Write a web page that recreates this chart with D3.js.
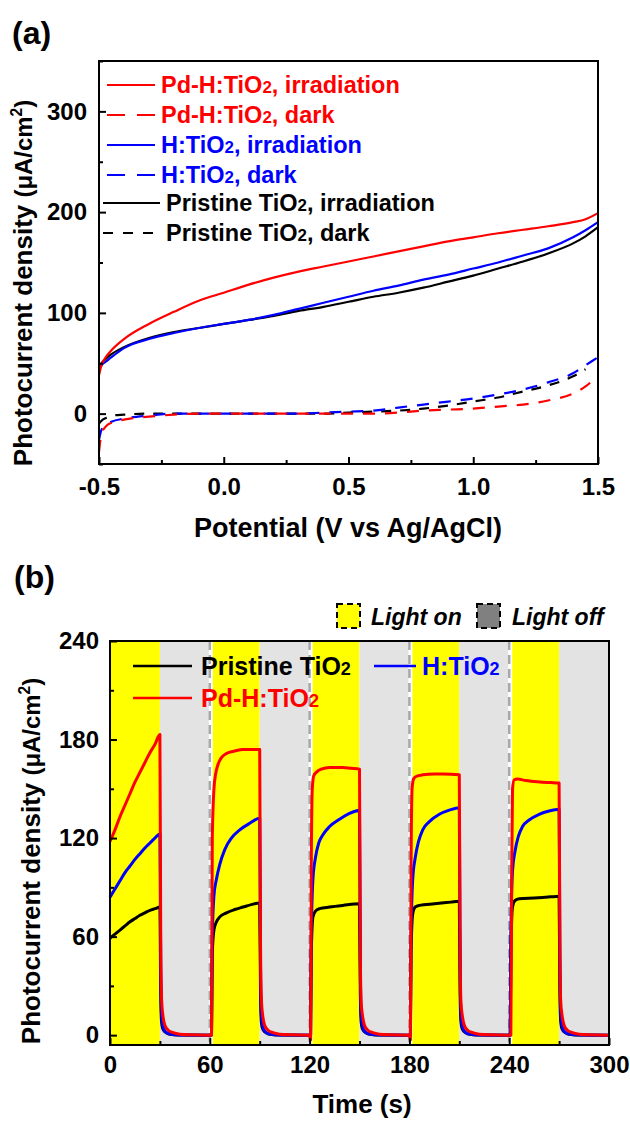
<!DOCTYPE html>
<meta charset="utf-8">
<script src="https://cdn.jsdelivr.net/npm/d3@7"></script>
<style>
    body { margin: 0; background: #fff; }
    text { font-family: "Liberation Sans", Arial, sans-serif; font-weight: bold; }
</style>
<svg id="fig" width="630" height="1121"></svg>
<script>
// ---------- panel (a) data : linear sweep ----------
var potential = [-0.5, -0.49, -0.47, -0.45, -0.4, -0.3, -0.2, -0.1, 0, 0.1, 0.2, 0.3, 0.4, 0.5,
    0.6, 0.7, 0.8, 0.9, 1.0, 1.1, 1.2, 1.3, 1.4, 1.45, 1.5];
var pdIrr = [38, 48, 57, 63, 74, 89, 101, 112, 120, 128, 135, 141, 146, 151,
    156, 161, 166, 171, 175, 179, 182.5, 186, 190, 193, 199];
var pdDark = [-38, -20, -12, -9, -6, -3, -1, 0, 0, 0, 0, 0, 0, 0,
    0, 1, 3, 4, 5, 7, 9, 13, 20, 27, 38];
var hIrr = [44, 48, 52, 56, 65, 74, 80, 85, 89, 93, 98, 104, 110, 116,
    122, 127, 133, 138, 144, 150, 157, 164, 175, 182, 190];
var hDark = [-26, -16, -11, -8, -5, -2, 0, 0, 0, 0, 0, 0, 1, 2,
    3, 6, 9, 12, 15, 19, 24, 31, 40, 48, 56];
var priIrr = [46, 50, 55, 59, 66, 75, 81, 85, 89, 93, 97, 102, 106, 111,
    116, 120, 125, 131, 137, 144, 151, 159, 169, 176, 185];
var priDark = [-10, -7, -4, -2, -1, 0, 0, 0, 0, 0, 0, 0, 0, 1,
    2, 3, 5, 8, 12, 16, 22, 28, 37, 44, null];

var potTicks = [-0.5, 0, 0.5, 1.0, 1.5];
var potMinor = [-0.25, 0.25, 0.75, 1.25];
var jTicksA = [0, 100, 200, 300];
var jMinorA = [-50, 50, 150, 250, 350];

// ---------- panel (b) data : chopped light ----------
var timeTicks = [0, 60, 120, 180, 240, 300];
var timeMinor = [30, 90, 150, 210, 270];
var jTicksB = [0, 60, 120, 180, 240];
var jMinorB = [30, 90, 150, 210];
var lightOn = [[0, 30], [60, 90], [120, 150], [180, 210], [240, 270]];
var lightOff = [[30, 60], [90, 120], [150, 180], [210, 240], [270, 300]];
var switchLines = [60, 120, 180, 240];

var pristineTrace = [
    [0,59],[3,61.5],[6,64],[9,66.5],[12,69],[15,71],[18,73],[21,74.5],[24,76],[27,77],[30,78],
    [30.5,25],[31,8],[31.7,4],[33,2],[35,0.8],[38,0.3],[42,0.1],[60,0],
    [61,0],[61.5,50],[62.5,64],[64,69],[66,72],[70,74.5],[75,76.5],[80,78],[85,79.5],[90,80.5],
    [90.5,25],[91,8],[91.7,4],[93,2],[95,0.8],[98,0.3],[102,0.1],[120,0],
    [120.6,0],[121,50],[122,72],[123.5,75.5],[126,77],[132,78],[140,79],[150,80],
    [150.5,25],[151,8],[151.7,4],[153,2],[155,0.8],[158,0.3],[162,0.1],[180,0],
    [180.6,0],[181,50],[182,74],[183.5,78],[186,79],[195,80],[205,81],[210,81.5],
    [210.5,25],[211,8],[211.7,4],[213,2],[215,0.8],[218,0.3],[222,0.1],[240,0],
    [240.6,0],[241,50],[242,78],[243.5,82],[246,83],[255,83.5],[265,84.2],[270,84.5],
    [270.5,25],[271,8],[271.7,4],[273,2],[275,0.8],[278,0.3],[282,0.1],[300,0]
];
var hTrace = [
    [0,84],[3,89],[6,94],[9,99],[12,103],[15,107],[18,110.5],[21,114],[24,117],[27,120],[30,122.5],
    [30.5,40],[31,12],[31.7,6],[33,2.5],[35,1],[38,0.4],[42,0.1],[60,0],
    [61,0],[61.5,60],[62.5,85],[64,95],[66,104],[69,113],[73,120],[78,125],[84,129],[90,132],
    [90.5,40],[91,12],[91.7,6],[93,2.5],[95,1],[98,0.4],[102,0.1],[120,0],
    [120.6,0],[121,60],[122,95],[123.5,108],[125.5,117],[128,122],[132,127],[138,131.5],[144,135],[150,137],
    [150.5,40],[151,12],[151.7,6],[153,2.5],[155,1],[158,0.4],[162,0.1],[180,0],
    [180.6,0],[181,60],[182,95],[183.5,108],[185.5,118],[188,125],[192,130],[198,134.5],[204,137],[210,138.5],
    [210.5,40],[211,12],[211.7,6],[213,2.5],[215,1],[218,0.4],[222,0.1],[240,0],
    [240.6,0],[241,60],[242,100],[243.5,112],[245.5,121],[248,127],[252,131],[258,134.5],[264,136.5],[270,137.5],
    [270.5,40],[271,12],[271.7,6],[273,2.5],[275,1],[278,0.4],[282,0.1],[300,0]
];
var pdTrace = [
    [0,118],[3,125],[6,133],[9,140],[12,147],[15,154],[18,160],[21,166],[24,172],[27,177],[30,183],
    [30.5,60],[31,22],[31.8,12],[33,6],[35,3],[38,1.5],[42,0.6],[48,0.2],[60,0],
    [61,0],[61.5,120],[62.5,150],[63.5,159],[65,165],[67,169],[70,171.5],[75,173],[80,174],[85,174],[90,174],
    [90.5,55],[91,22],[91.8,12],[93,6],[95,3],[98,1.5],[102,0.6],[108,0.2],[120,0],
    [120.6,-3],[121,100],[121.6,150],[122.5,158],[124,160],[127,162],[132,163],[140,163],[145,162.5],[150,162],
    [150.5,50],[151,20],[151.8,12],[153,6],[155,3],[158,1.5],[162,0.6],[168,0.2],[180,0],
    [180.6,-3],[181,100],[181.6,150],[182.5,156],[184,157.5],[188,158.5],[195,159],[200,159],[210,158.5],
    [210.5,50],[211,20],[211.8,12],[213,6],[215,3],[218,1.5],[222,0.6],[228,0.2],[240,0],
    [241,0],[241.5,100],[242,150],[243,155.5],[245,156],[250,155],[255,154.5],[260,154],[265,153.8],[270,153.5],
    [270.5,50],[271,20],[271.8,12],[273,6],[275,3],[278,1.5],[282,0.6],[288,0.2],[300,0]
];

var svg = d3.select("#fig");

// draw inward major + minor ticks and labels
function drawAxes(g, x, y, w, h, xMajor, xMinor, yMajor, yMinor, xFmt, xPad, yPad) {
    g.append("g")
        .attr("transform", "translate(0," + h + ")")
        .call(d3.axisBottom(x).tickValues(xMinor).tickSize(-4).tickFormat(""))
        .call(function(a) { a.select(".domain").remove(); });
    g.append("g")
        .call(d3.axisLeft(y).tickValues(yMinor).tickSize(-4).tickFormat(""))
        .call(function(a) { a.select(".domain").remove(); });
    var xa = g.append("g")
        .attr("transform", "translate(0," + h + ")")
        .call(d3.axisBottom(x).tickValues(xMajor).tickSizeInner(-7).tickSizeOuter(0)
            .tickPadding(xPad).tickFormat(xFmt));
    var ya = g.append("g")
        .call(d3.axisLeft(y).tickValues(yMajor).tickSizeInner(-7).tickSizeOuter(0)
            .tickPadding(yPad).tickFormat(function(d) { return d; }));
    [xa, ya].forEach(function(a) {
        a.attr("font-size", 24).attr("font-family", null);
        a.selectAll("text").attr("fill", "#000");
    });
    g.selectAll(".tick line").attr("stroke", "#000").attr("stroke-width", 2);
    g.append("rect")
        .attr("width", w).attr("height", h)
        .attr("fill", "none").attr("stroke", "#000").attr("stroke-width", 2);
}

function tiO2(sel, prefix, suffix, size) {
    sel.append("tspan").text(prefix + "TiO");
    sel.append("tspan").attr("font-size", size * 0.72).text("2");
    if (suffix) sel.append("tspan").text(suffix);
}

function yTitle(x, yc, size) {
    var t = svg.append("text")
        .attr("transform", "translate(" + x + "," + yc + ") rotate(-90)")
        .attr("text-anchor", "middle")
        .attr("font-size", size);
    t.append("tspan").text("Photocurrent density ");
    t.append("tspan").attr("font-size", size * 0.92).text("(\u03bcA/cm");
    t.append("tspan").attr("font-size", size * 0.6).attr("dy", -10).text("2");
    t.append("tspan").attr("font-size", size * 0.92).attr("dy", 10).text(")");
}

// ================= panel (a) =================
var mA = {left: 99, top: 61}, wA = 499, hA = 403;
var gA = svg.append("g").attr("transform", "translate(" + mA.left + "," + mA.top + ")");
var xA = d3.scaleLinear().domain([-0.5, 1.5]).range([0, wA]);
var yA = d3.scaleLinear().domain([-50, 350]).range([hA, 0]);

var seriesA = [
    {vals: priDark, color: "#000", dash: "10,9"},
    {vals: hDark, color: "#0000ff", dash: "12,10"},
    {vals: pdDark, color: "#ff0000", dash: "12,10"},
    {vals: priIrr, color: "#000", dash: null},
    {vals: hIrr, color: "#0000ff", dash: null},
    {vals: pdIrr, color: "#ff0000", dash: null}
];
var lineA = d3.line()
    .defined(function(d) { return d[1] !== null; })
    .x(function(d) { return xA(d[0]); })
    .y(function(d) { return yA(d[1]); })
    .curve(d3.curveMonotoneX);
seriesA.forEach(function(s) {
    gA.append("path")
        .datum(potential.map(function(p, i) { return [p, s.vals[i]]; }))
        .attr("fill", "none")
        .attr("stroke", s.color)
        .attr("stroke-width", 2.2)
        .attr("stroke-dasharray", s.dash)
        .attr("d", lineA);
});

drawAxes(gA, xA, yA, wA, hA, potTicks, potMinor, jTicksA, jMinorA,
    function(d) { return d.toFixed(1); }, 14, 12);

// legend (a)
var legA = [
    {pre: "Pd-H:", suf: ", irradiation", color: "#ff0000", dash: null, y: 85, x0: 8, x1: 56, tx: 62},
    {pre: "Pd-H:", suf: ", dark", color: "#ff0000", dash: "18,12", y: 115, x0: 8, x1: 56, tx: 62},
    {pre: "H:", suf: ", irradiation", color: "#0000ff", dash: null, y: 145, x0: 8, x1: 56, tx: 62},
    {pre: "H:", suf: ", dark", color: "#0000ff", dash: "18,12", y: 175, x0: 8, x1: 56, tx: 62},
    {pre: "Pristine ", suf: ", irradiation", color: "#000", dash: null, y: 203, x0: 4, x1: 61, tx: 67},
    {pre: "Pristine ", suf: ", dark", color: "#000", dash: "10,10", y: 233, x0: 4, x1: 61, tx: 67}
];
legA.forEach(function(l) {
    gA.append("line")
        .attr("x1", l.x0).attr("x2", l.x1)
        .attr("y1", l.y - mA.top).attr("y2", l.y - mA.top)
        .attr("stroke", l.color).attr("stroke-width", 2.2)
        .attr("stroke-dasharray", l.dash);
    var t = gA.append("text")
        .attr("x", l.tx).attr("y", l.y - mA.top + 8)
        .attr("font-size", 23.5).attr("fill", l.color);
    tiO2(t, l.pre, l.suf, 23.5);
});

svg.append("text").attr("x", 12).attr("y", 44)
    .attr("font-family", "'Open Sans', sans-serif").attr("font-size", 32).text("(a)");
svg.append("text").attr("x", 348).attr("y", 537).attr("text-anchor", "middle")
    .attr("font-size", 27).text("Potential (V vs Ag/AgCl)");
yTitle(32, 283, 26);

// ================= panel (b) =================
var mB = {left: 110, top: 641}, wB = 499, hB = 404;
var gB = svg.append("g").attr("transform", "translate(" + mB.left + "," + mB.top + ")");
var xB = d3.scaleLinear().domain([0, 300]).range([0, wB]);
var yB = d3.scaleLinear().domain([-6, 240]).range([hB, 0]);

gB.selectAll(".on").data(lightOn).enter().append("rect")
    .attr("x", function(d) { return xB(d[0]); })
    .attr("width", function(d) { return xB(d[1]) - xB(d[0]); })
    .attr("y", 0).attr("height", hB).attr("fill", "#ffff00");
gB.selectAll(".off").data(lightOff).enter().append("rect")
    .attr("x", function(d) { return xB(d[0]); })
    .attr("width", function(d) { return xB(d[1]) - xB(d[0]); })
    .attr("y", 0).attr("height", hB).attr("fill", "#e3e3e3");
switchLines.forEach(function(t) {
    gB.append("rect").attr("x", xB(t) - 1).attr("width", 4)
        .attr("y", 0).attr("height", hB).attr("fill", "#fff");
    gB.append("line").attr("x1", xB(t)).attr("x2", xB(t))
        .attr("y1", 0).attr("y2", hB)
        .attr("stroke", "#a8a8a8").attr("stroke-width", 2.5)
        .attr("stroke-dasharray", "9,5");
});

var lineB = d3.line()
    .x(function(d) { return xB(d[0]); })
    .y(function(d) { return yB(d[1]); })
    .curve(d3.curveMonotoneX);
[[pristineTrace, "#000"], [hTrace, "#0000ff"], [pdTrace, "#ff0000"]].forEach(function(s) {
    gB.append("path").datum(s[0])
        .attr("fill", "none").attr("stroke", s[1])
        .attr("stroke-width", 3).attr("stroke-linejoin", "round")
        .attr("d", lineB);
});

drawAxes(gB, xB, yB, wB, hB, timeTicks, timeMinor, jTicksB, jMinorB,
    function(d) { return d; }, 11, 11);

// legend (b)
var legB = [
    {pre: "Pristine ", color: "#000", y: 666, x0: 133, x1: 192, tx: 201},
    {pre: "H:", color: "#0000ff", y: 666, x0: 374, x1: 416, tx: 422},
    {pre: "Pd-H:", color: "#ff0000", y: 698, x0: 133, x1: 192, tx: 201}
];
legB.forEach(function(l) {
    svg.append("line").attr("x1", l.x0).attr("x2", l.x1)
        .attr("y1", l.y).attr("y2", l.y)
        .attr("stroke", l.color).attr("stroke-width", 2.5);
    var t = svg.append("text").attr("x", l.tx).attr("y", l.y + 9)
        .attr("font-size", 25).attr("fill", l.color);
    tiO2(t, l.pre, "", 25);
});

// light on / off key
svg.append("rect").attr("x", 337).attr("y", 604).attr("width", 23).attr("height", 24)
    .attr("fill", "#ffff00").attr("stroke", "#000").attr("stroke-width", 2)
    .attr("stroke-dasharray", "6,4");
svg.append("rect").attr("x", 477).attr("y", 604).attr("width", 23).attr("height", 24)
    .attr("fill", "#808080").attr("stroke", "#000").attr("stroke-width", 2)
    .attr("stroke-dasharray", "6,4");
svg.append("text").attr("x", 371).attr("y", 625)
    .attr("font-family", "'Open Sans', sans-serif").attr("font-style", "italic")
    .attr("font-size", 23).text("Light on");
svg.append("text").attr("x", 512).attr("y", 625)
    .attr("font-family", "'Open Sans', sans-serif").attr("font-style", "italic")
    .attr("font-size", 23).text("Light off");

svg.append("text").attr("x", 14).attr("y", 588)
    .attr("font-family", "'Open Sans', sans-serif").attr("font-size", 32).text("(b)");
svg.append("text").attr("x", 362).attr("y", 1113).attr("text-anchor", "middle")
    .attr("font-size", 26).text("Time (s)");
yTitle(40, 861, 26);
</script>
